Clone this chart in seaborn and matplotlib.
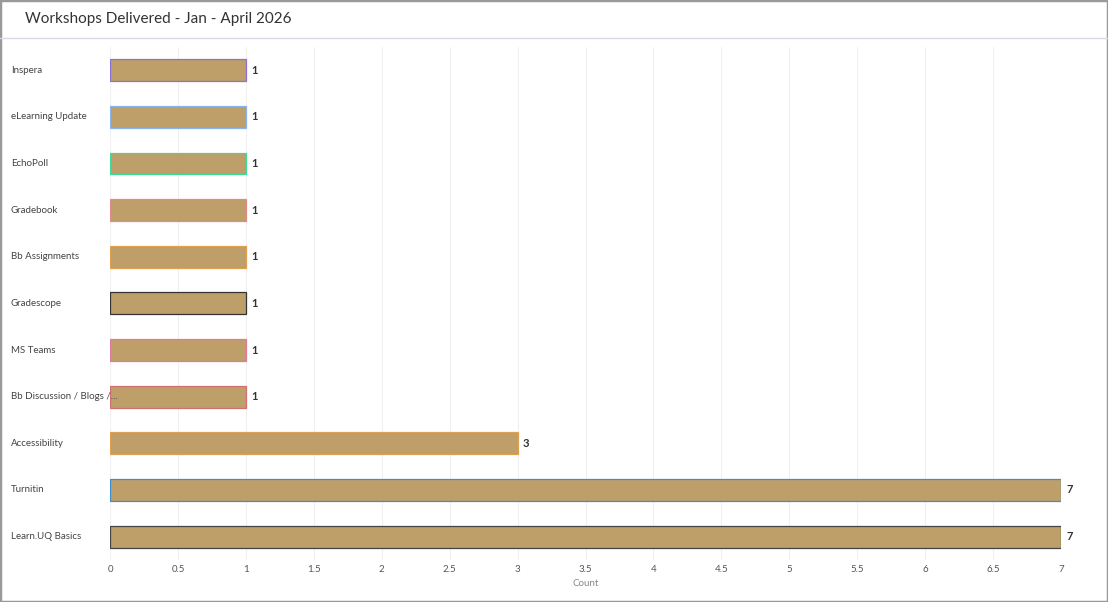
import matplotlib
matplotlib.use("Agg")
import matplotlib.pyplot as plt
import seaborn as sns
import pandas as pd
from matplotlib.lines import Line2D
from matplotlib.patches import Rectangle

categories = ["Inspera", "eLearning Update", "EchoPoll", "Gradebook", "Bb Assignments",
              "Gradescope", "MS Teams", "Bb Discussion / Blogs /...", "Accessibility",
              "Turnitin", "Learn.UQ Basics"]
counts = [1, 1, 1, 1, 1, 1, 1, 1, 3, 7, 7]
edge_colors = ["#8e6fd8", "#8ab4f0", "#3ddc97", "#e08a8a", "#e0a050", "#333333",
               "#e07aa0", "#d07070", "#e0a050", "#3a8fd0", "#444444"]
xticks = [0, 0.5, 1, 1.5, 2, 2.5, 3, 3.5, 4, 4.5, 5, 5.5, 6, 6.5, 7]

sns.set_theme(style="white")
plt.rcParams['font.family'] = ['Lato', 'DejaVu Sans']

df = pd.DataFrame({"cat": categories, "count": counts})
fig = plt.figure(figsize=(11.08, 6.02), dpi=100)
ax = fig.add_axes([0.0993, 0.070, 0.8583, 0.852])
sns.barplot(data=df, y="cat", x="count", color="#BE9E69", width=0.47, ax=ax, saturation=1)
for p, ec in zip(ax.patches, edge_colors):
    p.set_edgecolor(ec)
    p.set_linewidth(0.9)
for p, v in zip(ax.patches, counts):
    ax.text(v + 0.04, p.get_y() + p.get_height() / 2, f"{v}", va="center", ha="left",
            fontsize=8, fontweight="bold", color="#333333")
ax.set_xlim(0, 7)
ax.set_xticks(xticks)
ax.set_xticklabels([f"{t:g}" for t in xticks], fontsize=7, color="#555555")
ax.set_yticklabels([])
ax.set_ylabel("")
ax.set_xlabel("Count", fontsize=7, color="#888888")
ax.tick_params(axis="both", length=0)
ax.grid(axis="x", color="#f0f0f0", linewidth=0.8)
ax.set_axisbelow(True)
for s in ax.spines.values():
    s.set_visible(False)
# left-aligned category labels
for i, c in enumerate(categories):
    ax.text(-0.7315, i, c, ha="left", va="center", fontsize=7, color="#444444",
            transform=ax.transData, clip_on=False)
fig.text(25 / 1108, 1 - 19 / 602, "Workshops Delivered - Jan - April 2026", fontsize=11,
         color="#333333", va="center", ha="left")
fig.add_artist(Line2D([0, 1], [1 - 38 / 602] * 2, color="#d8dae6", linewidth=1))
fig.add_artist(Rectangle((0, 0), 1, 1, transform=fig.transFigure, fill=False,
                         edgecolor="#999999", linewidth=2.5))
fig.savefig("out.png", dpi=100)
